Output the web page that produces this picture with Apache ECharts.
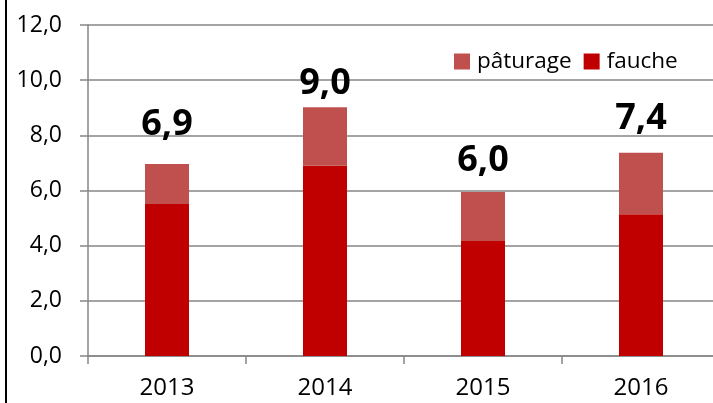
<!DOCTYPE html>
<html>
<head>
<meta charset="utf-8">
<script src="https://cdn.jsdelivr.net/npm/echarts@6/dist/echarts.min.js"></script>
<style>
html,body{margin:0;padding:0;background:#fff;}
#c{width:713px;height:403px;}
</style>
</head>
<body>
<div id="c"></div>
<script>
var years = ['2013', '2014', '2015', '2016'];
var fauche = [5.51, 6.90, 4.17, 5.14];
var paturage = [1.45, 2.12, 1.78, 2.23];
var totalLabels = ['6,9', '9,0', '6,0', '7,4'];
var yTicks = [0, 2, 4, 6, 8, 10, 12];

var labelOffsets = [21, 5, 13, 16];
var FONT = '"Open Sans", sans-serif';

var chart = echarts.init(document.getElementById('c'), null, {renderer: 'canvas'});

var patData = paturage.map(function (v, i) {
  return {
    value: v,
    label: {
      show: true,
      position: 'top',
      distance: 0,
      offset: [0, -labelOffsets[i]],
      formatter: function () { return totalLabels[i]; }
    }
  };
});

chart.setOption({
  animation: false,
  textStyle: {fontFamily: FONT},
  grid: {left: 88, top: 25, width: 632, height: 331, containLabel: false, outerBoundsMode: 'none'},
  legend: {
    data: ['pâturage', 'fauche'],
    left: 454, top: 50, padding: 0,
    itemWidth: 16, itemHeight: 16, itemGap: 12,
    icon: 'rect',
    textStyle: {fontSize: 22.5, color: '#000', fontFamily: FONT, padding: [0, 0, 0, 2]}
  },
  xAxis: {
    type: 'category',
    data: years,
    axisLine: {lineStyle: {color: '#868686', width: 1.5}},
    axisTick: {show: true, length: 8, lineStyle: {color: '#868686', width: 1.5}},
    axisLabel: {color: '#000', fontSize: 24, fontFamily: FONT, margin: 20}
  },
  yAxis: {
    type: 'value',
    min: yTicks[0], max: yTicks[yTicks.length - 1], interval: 2,
    axisLine: {show: true, lineStyle: {color: '#868686', width: 1.5}},
    axisTick: {show: true, length: 8, lineStyle: {color: '#868686', width: 1.5}},
    splitLine: {show: true, lineStyle: {color: '#868686', width: 1.5}},
    axisLabel: {
      color: '#000', fontSize: 23, fontFamily: FONT, margin: 26,
      formatter: function (v) { return v.toFixed(1).replace('.', ','); }
    }
  },
  series: [
    {
      name: 'fauche', type: 'bar', stack: 'total',
      data: fauche, barWidth: 44,
      itemStyle: {color: '#C00000'}
    },
    {
      name: 'pâturage', type: 'bar', stack: 'total',
      data: patData, barWidth: 44,
      itemStyle: {color: '#C0504D'},
      label: {fontSize: 36, fontWeight: 'bold', color: '#000', fontFamily: FONT}
    }
  ],
  graphic: [{
    type: 'rect', left: 5, top: 0,
    shape: {width: 2, height: 403},
    style: {fill: '#000'}
  }]
});
</script>
</body>
</html>
